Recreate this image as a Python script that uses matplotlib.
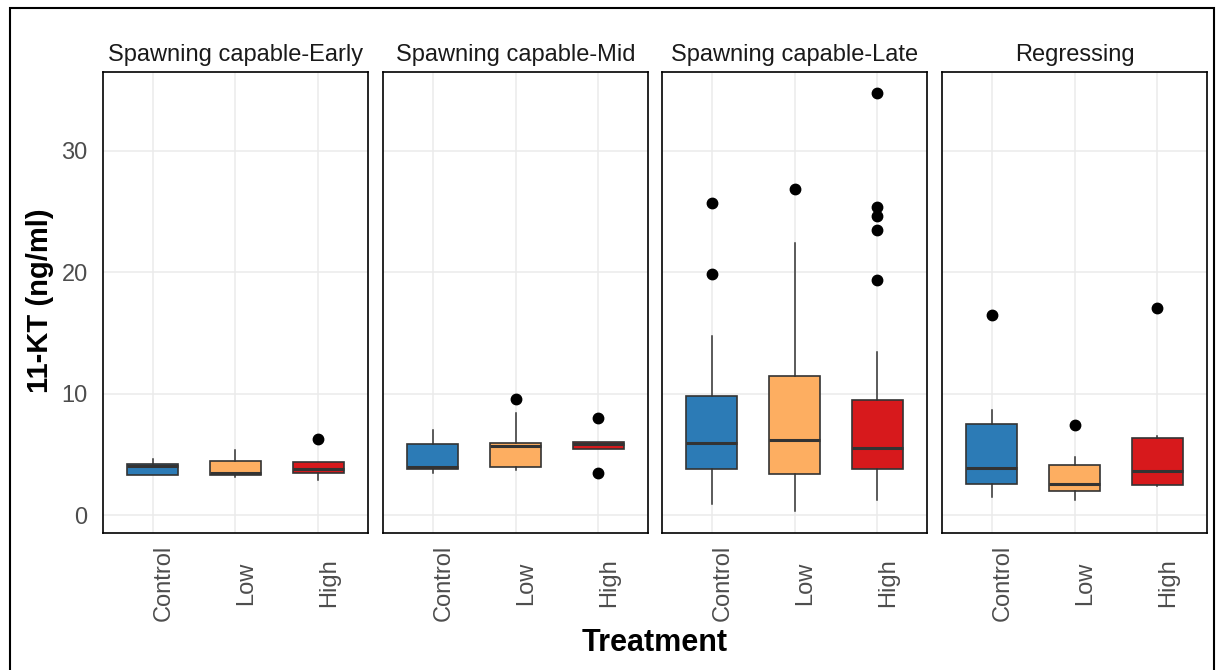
import matplotlib.pyplot as plt
from matplotlib.patches import Rectangle
from matplotlib.transforms import ScaledTranslation

plt.rcParams['font.family'] = ['Liberation Sans', 'DejaVu Sans']

stages = ['Spawning capable-Early', 'Spawning capable-Mid',
          'Spawning capable-Late', 'Regressing']
treatments = ['Control', 'Low', 'High']
colors = ['#2C7BB6', '#FDAE61', '#D7191C']

# per stage: one row per treatment (Control, Low, High)
whislo = [[3.3, 3.2, 2.95], [3.45, 3.7, 5.5], [0.9, 0.4, 1.3], [1.55, 1.3, 2.45]]
q1 = [[3.33, 3.33, 3.5], [3.85, 3.98, 5.5], [3.85, 3.43, 3.85], [2.6, 1.98, 2.47]]
med = [[4.05, 3.45, 3.8], [3.98, 5.72, 5.9], [5.96, 6.18, 5.55], [3.93, 2.58, 3.68]]
q3 = [[4.26, 4.5, 4.37], [5.9, 6.0, 6.02], [9.8, 11.45, 9.53], [7.5, 4.12, 6.38]]
whishi = [[4.65, 5.4, 4.37], [7.05, 8.45, 6.02], [14.75, 22.45, 13.45], [8.7, 4.8, 6.55]]
fliers = [
    [[], [], [6.27]],
    [[], [9.54], [8.02, 3.49]],
    [[25.7, 19.9], [26.9], [34.76, 25.4, 24.65, 23.5, 19.37]],
    [[16.49], [7.4], [17.1]],
]

fig = plt.figure(figsize=(12.17, 6.70), dpi=100)
fig.patches.append(Rectangle((10 / 1217, -0.01), 1204 / 1217, 1 - 8 / 670 + 0.01,
                             transform=fig.transFigure, fill=False,
                             edgecolor='black', lw=1.5))

lefts = [103, 383, 662, 942]
pw = 265
# rotated category labels sit a little right of their ticks, centred ~50px below the panel
shift = ScaledTranslation(11 / 100, -50 / 100, fig.dpi_scale_trans)

for i, stage in enumerate(stages):
    ax = fig.add_axes([lefts[i] / 1217, 1 - 533 / 670, pw / 1217, (533 - 72) / 670])
    stats = []
    for j in range(3):
        stats.append(dict(med=med[i][j], q1=q1[i][j], q3=q3[i][j],
                          whislo=whislo[i][j], whishi=whishi[i][j],
                          fliers=fliers[i][j]))
    bp = ax.bxp(stats, positions=[1, 2, 3], widths=0.62, patch_artist=True,
                showcaps=False,
                boxprops=dict(edgecolor='#333333', lw=1.2),
                medianprops=dict(color='#333333', lw=2.2),
                whiskerprops=dict(color='#333333', lw=1.1),
                flierprops=dict(marker='o', markerfacecolor='black',
                                markeredgecolor='black', markersize=7.5))
    for box, c in zip(bp['boxes'], colors):
        box.set_facecolor(c)

    ax.set_xlim(0.4, 3.6)
    ax.set_ylim(-1.45, 36.5)
    ax.set_yticks([0, 10, 20, 30])
    ax.set_xticks([1, 2, 3])
    ax.set_xticklabels([])
    for pos, name in zip([1, 2, 3], treatments):
        ax.text(pos, 0, name, rotation=90, fontsize=17, color='#4D4D4D',
                ha='center', va='center',
                transform=ax.get_xaxis_transform() + shift)
    ax.grid(True, color='#EBEBEB', lw=1.1, zorder=0)
    ax.set_axisbelow(True)
    for sp in ax.spines.values():
        sp.set_color('black')
        sp.set_linewidth(1.2)
    ax.tick_params(axis='x', length=0)
    if i == 0:
        ax.tick_params(axis='y', length=0, labelsize=17,
                       labelcolor='#4D4D4D', pad=11)
    else:
        ax.tick_params(axis='y', length=0, labelleft=False)
    ax.set_title(stage, fontsize=17, color='#1A1A1A', pad=8)

fig.text(655 / 1217, 1 - 643 / 670, 'Treatment', fontsize=22, fontweight='bold',
         ha='center', va='center')
fig.text(40 / 1217, 1 - 301 / 670, '11-KT (ng/ml)', fontsize=21, fontweight='bold',
         ha='center', va='center', rotation=90)

fig.savefig('out.png', dpi=100)
